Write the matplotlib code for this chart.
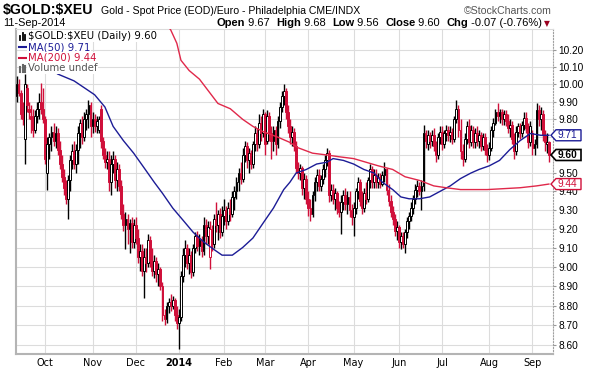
import numpy as np
import pandas as pd
import matplotlib
matplotlib.use("Agg")
import matplotlib.pyplot as plt
from matplotlib.patches import Polygon
from matplotlib.ticker import NullLocator

# daily OHLC (one row of ten per line)
opens = [
    9.93, 10.00, 9.95, 9.83, 9.69, 9.98, 9.86, 9.82, 9.80, 9.74,
    9.82, 9.86, 9.90, 9.86, 9.80, 9.50, 9.66, 9.70, 9.73, 9.68,
    9.72, 9.63, 9.55, 9.48, 9.42, 9.36, 9.46, 9.57, 9.62, 9.55,
    9.63, 9.72, 9.78, 9.70, 9.80, 9.83, 9.88, 9.76, 9.80, 9.76,
    9.74, 9.86, 9.68, 9.60, 9.56, 9.58, 9.45, 9.55, 9.58, 9.46,
    9.52, 9.43, 9.28, 9.22, 9.25, 9.20, 9.23, 9.13, 9.22, 9.15,
    9.05, 9.08, 8.98, 9.05, 9.02, 9.14, 9.03, 8.98, 9.03, 8.96,
    8.99, 8.90, 8.75, 8.73, 8.80, 8.82, 8.80, 8.83, 8.75, 8.71,
    8.74, 8.95, 9.06, 9.10, 9.02, 9.06, 8.97, 9.10, 9.16, 9.11,
    9.14, 9.08, 9.22, 9.16, 9.05, 9.20, 9.12, 9.25, 9.22, 9.28,
    9.18, 9.27, 9.30, 9.24, 9.31, 9.28, 9.37, 9.40, 9.45, 9.50,
    9.47, 9.60, 9.65, 9.57, 9.61, 9.55, 9.66, 9.72, 9.66, 9.78,
    9.72, 9.83, 9.68, 9.82, 9.72, 9.68, 9.74, 9.66, 9.79, 9.87,
    9.93, 9.96, 9.84, 9.76, 9.70, 9.73, 9.65, 9.53, 9.50, 9.53,
    9.42, 9.47, 9.36, 9.31, 9.28, 9.38, 9.45, 9.49, 9.43, 9.47,
    9.52, 9.57, 9.61, 9.38, 9.41, 9.36, 9.39, 9.31, 9.29, 9.34,
    9.38, 9.33, 9.37, 9.30, 9.26, 9.31, 9.40, 9.45, 9.35, 9.31,
    9.39, 9.36, 9.46, 9.52, 9.45, 9.49, 9.45, 9.48, 9.44, 9.49,
    9.52, 9.41, 9.35, 9.29, 9.25, 9.19, 9.21, 9.13, 9.16, 9.12,
    9.18, 9.24, 9.27, 9.31, 9.36, 9.41, 9.43, 9.40, 9.43, 9.72,
    9.66, 9.71, 9.68, 9.71, 9.65, 9.60, 9.70, 9.73, 9.66, 9.72,
    9.74, 9.71, 9.73, 9.69, 9.80, 9.86, 9.74, 9.62, 9.58, 9.69,
    9.76, 9.67, 9.74, 9.67, 9.72, 9.68, 9.71, 9.65, 9.70, 9.63,
    9.60, 9.64, 9.74, 9.78, 9.84, 9.82, 9.84, 9.80, 9.83, 9.79,
    9.75, 9.77, 9.69, 9.62, 9.73, 9.76, 9.72, 9.77, 9.81, 9.75,
    9.67, 9.72, 9.64, 9.66, 9.85, 9.80, 9.83, 9.71, 9.66, 9.67,
]
highs = [
    10.05, 10.03, 9.97, 9.90, 10.06, 10.00, 9.90, 9.88, 9.86, 9.85,
    9.90, 9.95, 10.01, 9.98, 9.82, 9.70, 9.72, 9.76, 9.78, 9.76,
    9.75, 9.68, 9.60, 9.52, 9.46, 9.49, 9.60, 9.66, 9.68, 9.66,
    9.76, 9.80, 9.82, 9.84, 9.86, 9.91, 9.90, 9.84, 9.83, 9.82,
    9.82, 9.88, 9.70, 9.64, 9.62, 9.62, 9.60, 9.62, 9.60, 9.56,
    9.55, 9.46, 9.33, 9.29, 9.28, 9.25, 9.26, 9.25, 9.26, 9.20,
    9.12, 9.12, 9.10, 9.10, 9.17, 9.16, 9.10, 9.06, 9.05, 9.02,
    9.00, 8.92, 8.78, 8.82, 8.84, 8.86, 8.85, 8.84, 8.80, 8.78,
    8.98, 9.10, 9.14, 9.12, 9.10, 9.08, 9.12, 9.18, 9.19, 9.17,
    9.16, 9.26, 9.25, 9.24, 9.24, 9.22, 9.28, 9.34, 9.30, 9.31,
    9.32, 9.36, 9.32, 9.34, 9.36, 9.40, 9.43, 9.48, 9.53, 9.56,
    9.64, 9.68, 9.67, 9.64, 9.63, 9.68, 9.76, 9.75, 9.83, 9.82,
    9.86, 9.84, 9.85, 9.84, 9.76, 9.76, 9.76, 9.82, 9.90, 9.96,
    10.00, 9.98, 9.88, 9.80, 9.76, 9.75, 9.68, 9.56, 9.55, 9.54,
    9.50, 9.49, 9.40, 9.36, 9.40, 9.48, 9.52, 9.52, 9.49, 9.55,
    9.60, 9.64, 9.63, 9.44, 9.44, 9.42, 9.40, 9.35, 9.38, 9.41,
    9.42, 9.40, 9.40, 9.33, 9.34, 9.42, 9.48, 9.47, 9.40, 9.42,
    9.45, 9.48, 9.55, 9.54, 9.52, 9.52, 9.50, 9.50, 9.51, 9.56,
    9.53, 9.44, 9.38, 9.32, 9.28, 9.24, 9.22, 9.18, 9.18, 9.20,
    9.26, 9.29, 9.34, 9.38, 9.44, 9.46, 9.45, 9.46, 9.77, 9.74,
    9.74, 9.73, 9.74, 9.75, 9.68, 9.72, 9.76, 9.76, 9.74, 9.77,
    9.76, 9.76, 9.75, 9.82, 9.91, 9.88, 9.80, 9.66, 9.72, 9.79,
    9.80, 9.77, 9.76, 9.75, 9.76, 9.74, 9.73, 9.72, 9.72, 9.66,
    9.67, 9.76, 9.81, 9.86, 9.89, 9.86, 9.86, 9.85, 9.85, 9.83,
    9.80, 9.79, 9.72, 9.76, 9.78, 9.78, 9.79, 9.84, 9.84, 9.78,
    9.79, 9.74, 9.69, 9.89, 9.88, 9.87, 9.85, 9.74, 9.72, 9.68,
]
lows = [
    9.90, 9.93, 9.80, 9.77, 9.55, 9.84, 9.80, 9.72, 9.70, 9.72,
    9.78, 9.80, 9.83, 9.78, 9.55, 9.41, 9.58, 9.62, 9.65, 9.64,
    9.60, 9.52, 9.45, 9.38, 9.33, 9.25, 9.40, 9.52, 9.52, 9.50,
    9.55, 9.64, 9.66, 9.68, 9.74, 9.75, 9.70, 9.72, 9.73, 9.72,
    9.72, 9.64, 9.58, 9.53, 9.52, 9.40, 9.38, 9.50, 9.42, 9.40,
    9.40, 9.25, 9.19, 9.09, 9.12, 9.07, 9.10, 9.10, 9.12, 9.02,
    8.98, 8.95, 8.84, 8.97, 9.00, 9.00, 8.95, 8.94, 8.92, 8.90,
    8.88, 8.72, 8.70, 8.71, 8.76, 8.77, 8.78, 8.72, 8.68, 8.58,
    8.72, 8.92, 9.00, 8.99, 8.96, 8.94, 8.95, 9.07, 9.08, 9.06,
    9.05, 9.06, 9.12, 9.12, 8.99, 9.08, 9.10, 9.18, 9.14, 9.15,
    9.16, 9.22, 9.20, 9.22, 9.24, 9.26, 9.30, 9.36, 9.40, 9.44,
    9.45, 9.56, 9.53, 9.50, 9.52, 9.53, 9.62, 9.62, 9.64, 9.68,
    9.70, 9.60, 9.66, 9.68, 9.58, 9.62, 9.60, 9.64, 9.75, 9.84,
    9.88, 9.80, 9.72, 9.66, 9.65, 9.62, 9.50, 9.47, 9.46, 9.38,
    9.36, 9.33, 9.27, 9.24, 9.26, 9.35, 9.40, 9.40, 9.40, 9.44,
    9.48, 9.54, 9.34, 9.35, 9.33, 9.30, 9.28, 9.26, 9.17, 9.30,
    9.30, 9.28, 9.26, 9.22, 9.16, 9.28, 9.36, 9.32, 9.28, 9.29,
    9.33, 9.34, 9.42, 9.42, 9.42, 9.42, 9.42, 9.42, 9.43, 9.45,
    9.38, 9.32, 9.26, 9.22, 9.16, 9.14, 9.10, 9.09, 9.10, 9.07,
    9.15, 9.20, 9.24, 9.28, 9.33, 9.37, 9.38, 9.30, 9.40, 9.64,
    9.63, 9.64, 9.65, 9.62, 9.56, 9.58, 9.66, 9.63, 9.64, 9.68,
    9.68, 9.67, 9.66, 9.67, 9.78, 9.70, 9.58, 9.54, 9.56, 9.66,
    9.64, 9.65, 9.64, 9.64, 9.65, 9.64, 9.62, 9.63, 9.60, 9.56,
    9.57, 9.62, 9.70, 9.77, 9.79, 9.78, 9.77, 9.77, 9.76, 9.72,
    9.70, 9.66, 9.58, 9.60, 9.70, 9.69, 9.70, 9.74, 9.72, 9.64,
    9.65, 9.60, 9.60, 9.64, 9.76, 9.74, 9.68, 9.62, 9.61, 9.56,
]
closes = [
    10.00, 9.95, 9.83, 9.80, 10.00, 9.88, 9.84, 9.80, 9.74, 9.82,
    9.86, 9.90, 9.86, 9.80, 9.58, 9.66, 9.70, 9.73, 9.68, 9.72,
    9.63, 9.55, 9.48, 9.42, 9.36, 9.46, 9.57, 9.62, 9.55, 9.63,
    9.72, 9.78, 9.70, 9.80, 9.83, 9.88, 9.76, 9.80, 9.76, 9.79,
    9.80, 9.68, 9.60, 9.56, 9.58, 9.45, 9.55, 9.58, 9.46, 9.52,
    9.43, 9.28, 9.22, 9.25, 9.20, 9.23, 9.13, 9.22, 9.15, 9.05,
    9.08, 8.98, 9.05, 9.02, 9.14, 9.03, 8.98, 9.03, 8.96, 8.99,
    8.90, 8.75, 8.73, 8.80, 8.82, 8.80, 8.83, 8.75, 8.71, 8.74,
    8.95, 9.06, 9.10, 9.02, 9.06, 8.97, 9.10, 9.16, 9.11, 9.14,
    9.08, 9.22, 9.16, 9.21, 9.20, 9.12, 9.25, 9.22, 9.28, 9.18,
    9.27, 9.30, 9.24, 9.31, 9.28, 9.37, 9.40, 9.45, 9.50, 9.47,
    9.60, 9.65, 9.57, 9.61, 9.55, 9.66, 9.72, 9.66, 9.78, 9.72,
    9.83, 9.66, 9.82, 9.72, 9.68, 9.74, 9.66, 9.79, 9.87, 9.93,
    9.96, 9.84, 9.76, 9.70, 9.73, 9.65, 9.53, 9.50, 9.53, 9.42,
    9.47, 9.36, 9.31, 9.28, 9.38, 9.45, 9.49, 9.43, 9.47, 9.52,
    9.57, 9.61, 9.38, 9.41, 9.36, 9.39, 9.31, 9.29, 9.34, 9.38,
    9.33, 9.37, 9.30, 9.26, 9.31, 9.40, 9.45, 9.35, 9.31, 9.39,
    9.36, 9.46, 9.52, 9.45, 9.49, 9.45, 9.48, 9.44, 9.49, 9.52,
    9.41, 9.35, 9.29, 9.25, 9.19, 9.21, 9.13, 9.16, 9.12, 9.18,
    9.24, 9.27, 9.31, 9.36, 9.41, 9.43, 9.40, 9.43, 9.72, 9.68,
    9.71, 9.68, 9.71, 9.65, 9.60, 9.70, 9.73, 9.66, 9.72, 9.74,
    9.71, 9.73, 9.69, 9.80, 9.86, 9.74, 9.62, 9.58, 9.69, 9.76,
    9.67, 9.74, 9.67, 9.72, 9.68, 9.71, 9.65, 9.70, 9.63, 9.60,
    9.64, 9.74, 9.78, 9.84, 9.82, 9.84, 9.80, 9.83, 9.79, 9.75,
    9.77, 9.69, 9.62, 9.73, 9.76, 9.72, 9.77, 9.81, 9.75, 9.67,
    9.76, 9.64, 9.66, 9.85, 9.80, 9.83, 9.71, 9.67, 9.67, 9.60,
]

# moving averages sampled along the drawn lines (trading-day index, value)
ma50_idx = [20, 28, 33, 38, 43, 47, 52, 57, 62, 67, 71, 76, 81, 86, 91, 96,
            100, 105, 110, 115, 120, 125, 130, 133, 136, 141, 146, 151, 154,
            159, 164, 169, 174, 178, 183, 187, 191, 196, 201, 206, 211, 216,
            221, 225, 230, 235, 240, 245, 250, 255, 259]
ma50_val = [10.06, 10.02, 9.98, 9.94, 9.87, 9.76, 9.68, 9.61, 9.53, 9.45,
            9.39, 9.31, 9.245, 9.18, 9.13, 9.09, 9.06, 9.06, 9.10, 9.15,
            9.23, 9.31, 9.41, 9.45, 9.50, 9.52, 9.55, 9.56, 9.58, 9.57,
            9.55, 9.52, 9.50, 9.45, 9.41, 9.37, 9.36, 9.36, 9.37, 9.40,
            9.43, 9.47, 9.50, 9.52, 9.54, 9.57, 9.63, 9.68, 9.72, 9.71,
            9.71]
ma200_idx = [73, 75, 78, 80, 84, 89, 98, 104, 110, 115, 120, 127, 133, 137,
             144, 151, 157, 164, 170, 176, 183, 189, 196, 203, 209, 216, 229,
             245, 253, 259]
ma200_val = [10.35, 10.32, 10.24, 10.14, 10.08, 10.03, 9.89, 9.86, 9.80,
             9.76, 9.73, 9.70, 9.67, 9.64, 9.61, 9.60, 9.59, 9.58, 9.56,
             9.54, 9.52, 9.48, 9.46, 9.43, 9.42, 9.41, 9.41, 9.42, 9.43,
             9.44]

price_ticks = [8.6, 8.7, 8.8, 8.9, 9.0, 9.1, 9.2, 9.3, 9.4, 9.5, 9.6, 9.7,
               9.8, 9.9, 10.0, 10.1, 10.2]
month_names = ['Oct', 'Nov', 'Dec', '2014', 'Feb', 'Mar', 'Apr', 'May',
               'Jun', 'Jul', 'Aug', 'Sep']

dates = pd.bdate_range('2013-09-11', '2014-09-11')
dates = dates[~dates.isin(pd.to_datetime(['2013-12-25', '2014-01-01']))]
x = np.arange(len(dates))
o = np.array(opens)
h = np.array(highs)
l = np.array(lows)
c = np.array(closes)

RED = '#d0103a'
BLUE = '#1c1c96'
MA_RED = '#e0284a'
GRID = '#dcdcdc'
W, H = 600, 371

fig = plt.figure(figsize=(6, 3.71), dpi=100)
ax = fig.add_axes([16 / W, 17 / H, 537 / W, 325 / H])

prev = np.concatenate([[c[0] - 0.01], c[:-1]])
cols = np.where(c >= prev, 'black', RED)
ax.vlines(x, l, h, colors=cols, lw=1.0, zorder=3)
bot = np.minimum(o, c)
top = np.maximum(o, c)
top = np.where(top - bot < 0.005, bot + 0.005, top)
faces = np.where(c > o, 'white', cols)
ax.bar(x, top - bot, bottom=bot, width=0.9, color=faces, edgecolor=cols,
       linewidth=0.7, zorder=4)

ax.plot(ma50_idx, ma50_val, color=BLUE, lw=1.0, zorder=5)
ax.plot(ma200_idx, ma200_val, color=MA_RED, lw=1.0, zorder=5)

ax.set_yscale('log')
ax.set_ylim(8.557, 10.325)
ax.set_xlim(-0.25, 261)
ax.yaxis.set_minor_locator(NullLocator())
ax.set_yticks(price_ticks)
# labels hidden under the 9.71 / 9.60 price tags are left blank
ax.set_yticklabels(['' if round(t, 2) in (9.6, 9.7) else f'{t:.2f}' for t in price_ticks],
                   fontfamily='Liberation Sans', fontsize=7.3)
ax.yaxis.tick_right()
ax.tick_params(axis='y', length=2, pad=2, color='#999999')

month_starts = [i for i in range(1, len(dates)) if dates[i].month != dates[i - 1].month]
ax.set_xticks(month_starts)
ax.set_xticklabels(month_names, fontsize=7, fontfamily='DejaVu Sans')
for lab in ax.get_xticklabels():
    if lab.get_text() == '2014':
        lab.set_fontweight('bold')
ax.tick_params(axis='x', length=0, pad=3)

ax.grid(True, color=GRID, lw=0.8)
ax.set_axisbelow(True)
for side in ['left', 'bottom']:
    ax.spines[side].set_color('#b4b4b4')
    ax.spines[side].set_linewidth(1.5)
ax.spines['top'].set_color(GRID)
ax.spines['right'].set_color('#a0a0a0')
ax.spines['right'].set_linestyle(':')


def fx(px):
    return px / W


def fy(py):
    return 1 - py / H


# header
fig.text(fx(3), fy(10), r'\$GOLD:\$XEU', fontsize=10.2, fontweight='bold',
         fontfamily='Liberation Sans', va='center')
fig.text(fx(101), fy(11), 'Gold - Spot Price (EOD)/Euro - Philadelphia CME/INDX',
         fontsize=7.6, fontfamily='Liberation Sans', va='center')
fig.text(fx(552), fy(11), '\u00a9StockCharts.com', fontsize=7.6,
         fontfamily='Liberation Sans', va='center', ha='right', color='#555555')
fig.text(fx(3), fy(23.5), '11-Sep-2014', fontsize=7.8,
         fontfamily='Liberation Sans', va='center')

renderer = fig.canvas.get_renderer()
pieces = [('Open', 'bold'), (' 9.67  ', 'normal'), ('High', 'bold'),
          (' 9.68  ', 'normal'), ('Low', 'bold'), (' 9.56  ', 'normal'),
          ('Close', 'bold'), (' 9.60  ', 'normal'), ('Chg', 'bold'),
          (' -0.07 (-0.76%)', 'normal')]
texts = []
for s, wgt in pieces:
    t = fig.text(0, fy(23.5), s, fontsize=8, fontweight=wgt,
                 fontfamily='Liberation Sans', va='center')
    texts.append(t)
total = sum(t.get_window_extent(renderer).width for t in texts)
cur = 542 - total
for t in texts:
    t.set_x(fx(cur))
    cur += t.get_window_extent(renderer).width
fig.text(fx(544), fy(23.5), '\u25bc', fontsize=5.5, color='#9a0020',
         va='center', fontfamily='DejaVu Sans')

# legend inside the plot
leg_font = dict(fontsize=7.3, fontfamily='DejaVu Sans', va='center')
white = dict(facecolor='white', edgecolor='none', pad=0.6)
fig.text(fx(28), fy(36), r'\$GOLD:\$XEU (Daily) 9.60', color='black', bbox=white, **leg_font)
fig.text(fx(28), fy(47), 'MA(50) 9.71', color=BLUE, bbox=white, **leg_font)
fig.text(fx(28), fy(58), 'MA(200) 9.44', color=RED, bbox=white, **leg_font)
fig.text(fx(28), fy(68), 'Volume undef', color='#555555', bbox=white, **leg_font)
fig.add_artist(plt.Line2D([fx(19), fx(27)], [fy(47), fy(47)], color=BLUE, lw=1.5))
fig.add_artist(plt.Line2D([fx(19), fx(27)], [fy(58), fy(58)], color=RED, lw=1.5))
for k, hh in enumerate([4, 7, 5]):
    fig.add_artist(plt.Line2D([fx(20 + 2.5 * k)] * 2, [fy(40), fy(40 - hh)],
                              color='black', lw=1.3))
for k, hh in enumerate([5, 7, 6]):
    fig.add_artist(plt.Line2D([fx(20 + 2.5 * k)] * 2, [fy(72), fy(72 - hh)],
                              color='#666666', lw=1.5))

# price tags at the right edge
for val, col, wgt in [(9.71, BLUE, 'normal'), (9.44, RED, 'normal'),
                      (9.60, 'black', 'bold')]:
    ypix = H - ax.transData.transform((0, val))[1]
    pts = [(551, ypix), (556, ypix - 5.5), (581, ypix - 5.5), (581, ypix + 5.5),
           (556, ypix + 5.5)]
    poly = Polygon([(fx(a), fy(b)) for a, b in pts], closed=True,
                   transform=fig.transFigure, facecolor='white', edgecolor=col,
                   lw=1.2 if wgt == 'bold' else 1.0, zorder=10)
    fig.add_artist(poly)
    fig.text(fx(558), fy(ypix), f'{val:.2f}', color=col, fontweight=wgt,
             fontsize=7.3, fontfamily='Liberation Sans', va='center', zorder=11)

fig.savefig('out.png', dpi=100)
